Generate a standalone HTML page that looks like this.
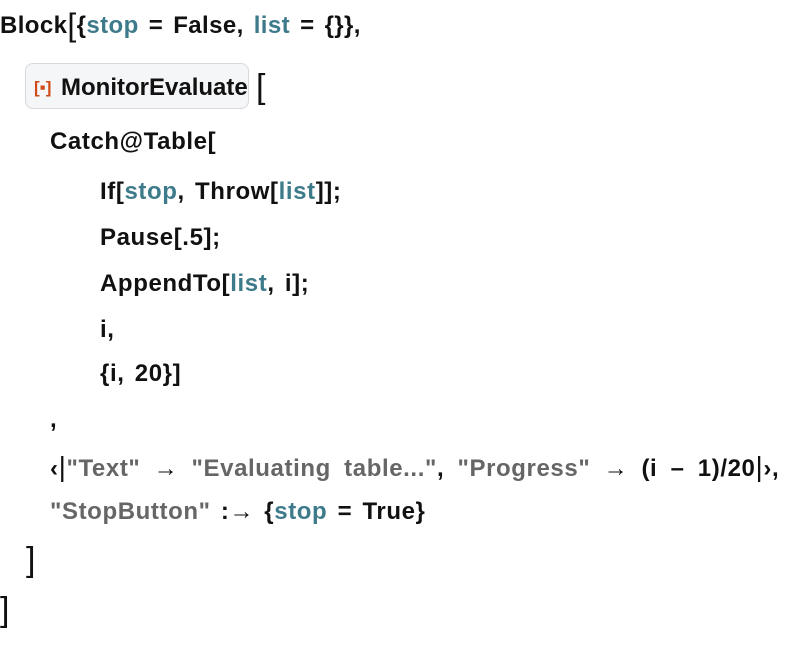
<!DOCTYPE html>
<html><head><style>
body{margin:0;width:808px;height:648px;background:#fff;position:relative;overflow:hidden;font-family:"Liberation Sans",sans-serif;font-size:24px;font-weight:bold;color:#111}
.l{position:absolute;white-space:nowrap;line-height:30px;letter-spacing:0.6px;word-spacing:3px}
.v{color:#3d7a8a}.s{color:#666}
.box{position:absolute;left:25px;top:63px;width:224px;height:46px;background:#f5f6f8;border:1px solid #d8d8dc;border-radius:8px;box-sizing:border-box}
.big{position:absolute;font-size:34px;line-height:40px;font-weight:normal}
</style></head><body>
<div class="l" style="left:0;top:10px;letter-spacing:0.4px">Block<span style="font-size:32px;vertical-align:-3px;font-weight:normal">[</span>{<span class="v">stop</span> = False, <span class="v">list</span> = {}},</div>
<div class="box"></div>
<div class="l" style="left:34px;top:73px;letter-spacing:0"><span style="color:#d04a18;font-size:17px;vertical-align:2px">[▪]</span> MonitorEvaluate</div>
<div class="big" style="left:256px;top:67px">[</div>
<div class="l" style="left:50px;top:127px">Catch@Table[</div>
<div class="l" style="left:100px;top:177px">If[<span class="v">stop</span>, Throw[<span class="v">list</span>]];</div>
<div class="l" style="left:100px;top:223px">Pause[.5];</div>
<div class="l" style="left:100px;top:269px">AppendTo[<span class="v">list</span>, i];</div>
<div class="l" style="left:100px;top:315px">i,</div>
<div class="l" style="left:100px;top:359px">{i, 20}]</div>
<div class="l" style="left:50px;top:405px">,</div>
<div class="l" style="left:50px;top:452px;word-spacing:6px">‹<span style="font-size:28px;font-weight:normal">|</span><span class="s">"Text"</span> → <span class="s">"Evaluating table..."</span>, <span class="s">"Progress"</span> → (i – 1)/20<span style="font-size:28px;font-weight:normal">|</span>›,</div>
<div class="l" style="left:50px;top:497px"><span class="s">"StopButton"</span> :→ {<span class="v">stop</span> = True}</div>
<div class="big" style="left:26px;top:540px">]</div>
<div class="big" style="left:0px;top:590px">]</div>
</body></html>
